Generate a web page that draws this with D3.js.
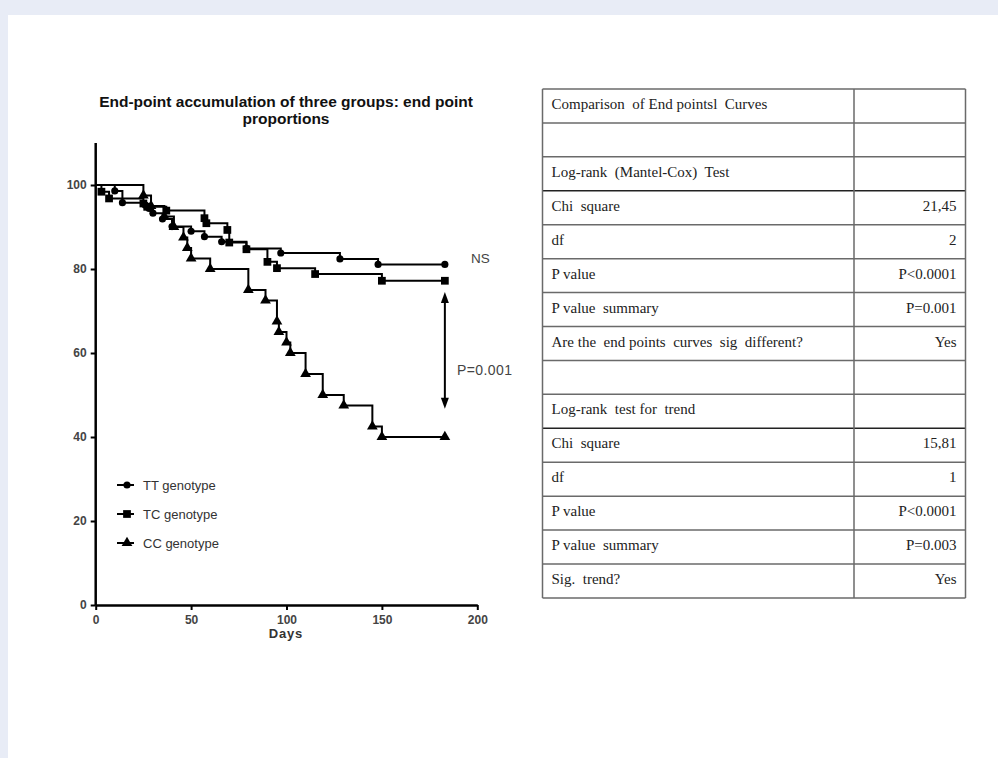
<!DOCTYPE html>
<html lang="en">
<head>
<meta charset="UTF-8">
<title>End-point accumulation of three groups</title>
<script src="https://cdnjs.cloudflare.com/ajax/libs/d3/7.8.5/d3.min.js"></script>
<style>
body { margin: 0; background: #e8ecf6; }
svg { display: block; }
</style>
</head>
<body>
<svg id="chart"></svg>
<script>
var W = 998, H = 758

// step curves: [day, percent]
var ttSteps = [[0,100],[10,98.6],[14,95.8],[26,95.2],[28,94.4],[30,93.3],[35,91.9],[40,90.1],[50,89],
  [57,87.7],[66,86.5],[79,84.9],[97,83.8],[128,82.4],[148,81.1],[183,81.1]]
var tcSteps = [[0,100],[3,98.4],[7,96.8],[25,95.6],[27,94.8],[37,93.9],[57,92.1],[58,90.9],[69,89.3],
  [70,86.3],[79,84.7],[90,81.7],[95,80.2],[115,78.8],[150,77.2],[183,77.2]]
var ccSteps = [[0,100],[25,97.5],[29,95],[36,92.5],[41,90],[46,87.5],[48,85],[50,82.5],[60,80],
  [80,75],[89,72.5],[95,67.5],[96,65],[100,62.5],[102,60],[110,55],[119,50],[130,47.5],
  [145,42.5],[150,40],[183,40]]

var seriesNames = ["TT genotype", "TC genotype", "CC genotype"]
var xTicks = [0, 50, 100, 150, 200]
var yTicks = [0, 20, 40, 60, 80, 100]

var tableLabels = ["Comparison  of End pointsl  Curves", "", "Log-rank  (Mantel-Cox)  Test",
  "Chi  square", "df", "P value", "P value  summary", "Are the  end points  curves  sig  different?",
  "", "Log-rank  test for  trend", "Chi  square", "df", "P value", "P value  summary", "Sig.  trend?"]
var tableValues = ["", "", "", "21,45", "2", "P<0.0001", "P=0.001", "Yes",
  "", "", "15,81", "1", "P<0.0001", "P=0.003", "Yes"]

var svg = d3.select("#chart").attr("width", W).attr("height", H)

// white page area
svg.append("rect").attr("x", 8).attr("y", 15).attr("width", W - 8).attr("height", H - 15)
  .attr("fill", "#fff")

var x = d3.scaleLinear().domain([0, 200]).range([95.7, 477.3])
var y = d3.scaleLinear().domain([0, 110]).range([605, 143])

var g = svg.append("g")

// title
g.append("text").attr("x", 286).attr("y", 107).attr("text-anchor", "middle")
  .style("font", "bold 15.5px 'Liberation Sans', Arial, sans-serif").attr("fill", "#111")
  .text("End-point accumulation of three groups: end point")
g.append("text").attr("x", 286).attr("y", 124).attr("text-anchor", "middle")
  .style("font", "bold 15.5px 'Liberation Sans', Arial, sans-serif").attr("fill", "#111")
  .text("proportions")

// axes
var xAxis = g.append("g").attr("transform", "translate(0," + y(0) + ")")
  .call(d3.axisBottom(x).tickValues(xTicks).tickSize(5).tickSizeOuter(0))
var yAxis = g.append("g").attr("transform", "translate(" + x(0) + ",0)")
  .call(d3.axisLeft(y).tickValues(yTicks).tickSize(5).tickSizeOuter(0))

;[xAxis, yAxis].forEach(function(a) {
  a.select(".domain").attr("stroke", "#000").attr("stroke-width", 2.5)
  a.selectAll(".tick line").attr("stroke", "#000").attr("stroke-width", 2)
  a.selectAll(".tick text").style("font", "bold 12px 'Liberation Sans', Arial, sans-serif")
    .attr("fill", "#444")
})
yAxis.select(".domain").attr("d", "M0," + y(110) + "V" + y(0))
xAxis.selectAll(".tick text").attr("dy", "0.9em")
yAxis.selectAll(".tick text").attr("dx", "-1px")

g.append("text").attr("x", 286).attr("y", 638).attr("text-anchor", "middle")
  .style("font", "bold 13px 'Liberation Sans', Arial, sans-serif").attr("fill", "#333")
  .attr("letter-spacing", "0.8px")
  .text("Days")

// curves
var symbols = [d3.symbolCircle, d3.symbolSquare, d3.symbolTriangle]
var symSizes = [40, 60, 50]
var allSteps = [ttSteps, tcSteps, ccSteps]

var line = d3.line()
  .x(function(d) { return x(d[0]) })
  .y(function(d) { return y(d[1]) })
  .curve(d3.curveStepAfter)

allSteps.forEach(function(steps, i) {
  g.append("path").datum(steps).attr("d", line)
    .attr("fill", "none").attr("stroke", "#000").attr("stroke-width", 2)
  g.selectAll(".m" + i).data(steps.slice(1)).enter()
    .append("path").attr("class", "m" + i)
    .attr("transform", function(d) { return "translate(" + x(d[0]) + "," + y(d[1]) + ")" })
    .attr("d", d3.symbol().type(symbols[i]).size(symSizes[i]))
    .attr("fill", "#000")
})

// annotations
g.append("text").attr("x", 471).attr("y", 263)
  .style("font", "13.5px 'Liberation Sans', Arial, sans-serif").attr("fill", "#444")
  .text("NS")

var ax = x(183)
var aTop = y(74.5), aBot = y(46.7)
g.append("line").attr("x1", ax).attr("x2", ax).attr("y1", aTop + 6).attr("y2", aBot - 6)
  .attr("stroke", "#000").attr("stroke-width", 2)
g.append("path").attr("d", "M" + ax + "," + aTop + "l-4,11h8z").attr("fill", "#000")
g.append("path").attr("d", "M" + ax + "," + aBot + "l-4,-11h8z").attr("fill", "#000")
g.append("text").attr("x", 457).attr("y", 375)
  .style("font", "14px 'Liberation Sans', Arial, sans-serif").attr("fill", "#444")
  .attr("letter-spacing", "0.4px")
  .text("P=0.001")

// legend
var leg = g.selectAll(".leg").data(seriesNames).enter().append("g")
  .attr("transform", function(d, i) { return "translate(117," + (485 + i * 29) + ")" })
leg.append("line").attr("x1", 0).attr("x2", 17).attr("stroke", "#000").attr("stroke-width", 2)
leg.append("path").attr("transform", "translate(10,0)")
  .attr("d", function(d, i) { return d3.symbol().type(symbols[i]).size(symSizes[i])() })
leg.append("text").attr("x", 26).attr("dy", "0.35em")
  .style("font", "13px 'Liberation Sans', Arial, sans-serif").attr("fill", "#333")
  .text(function(d) { return d })

// statistics table
var tx0 = 542.5, tx1 = 854, tx2 = 965.5, ty0 = 89, rowH = 33.93
var tbl = svg.append("g")
var rows = tbl.selectAll(".row").data(tableLabels).enter().append("g")
  .attr("transform", function(d, i) { return "translate(0," + (ty0 + i * rowH) + ")" })
rows.append("text").attr("x", tx0 + 9).attr("y", 20)
  .style("font", "15px 'Liberation Serif', 'Times New Roman', serif").attr("fill", "#222")
  .style("white-space", "pre")
  .text(function(d) { return d })
rows.append("text").attr("x", tx2 - 9).attr("y", 20).attr("text-anchor", "end")
  .style("font", "15px 'Liberation Serif', 'Times New Roman', serif").attr("fill", "#222")
  .text(function(d, i) { return tableValues[i] })

d3.range(tableLabels.length + 1).forEach(function(i) {
  tbl.append("line").attr("x1", tx0).attr("x2", tx2)
    .attr("y1", ty0 + i * rowH).attr("y2", ty0 + i * rowH)
    .attr("stroke", (i === 3 || i === 10) ? "#222" : "#6a6a6a").attr("stroke-width", 1.5)
})
;[tx0, tx1, tx2].forEach(function(xx) {
  tbl.append("line").attr("x1", xx).attr("x2", xx)
    .attr("y1", ty0).attr("y2", ty0 + tableLabels.length * rowH)
    .attr("stroke", "#6a6a6a").attr("stroke-width", 1.5)
})
</script>
</body>
</html>
